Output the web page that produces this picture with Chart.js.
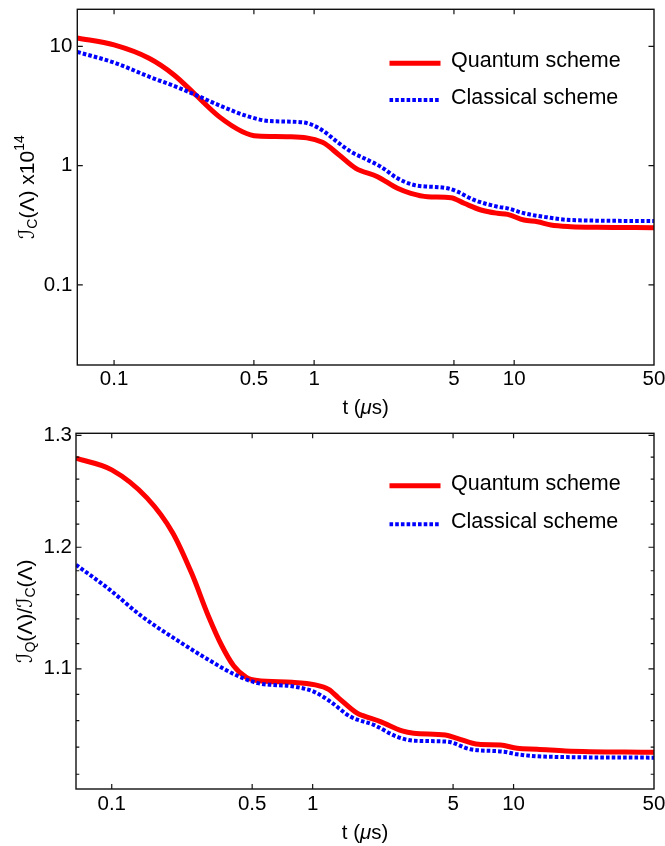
<!DOCTYPE html>
<html><head><meta charset="utf-8">
<script src="https://cdn.jsdelivr.net/npm/chart.js@4.4.1/dist/chart.umd.min.js"></script>
<style>
html,body{margin:0;padding:0;background:#fff;overflow:hidden;}
#w1{position:absolute;left:0;top:0;width:665px;height:420px;}
#w2{position:absolute;left:0;top:420px;width:665px;height:426px;}
</style></head><body>
<div id="w1"><canvas id="c1" width="665" height="420"></canvas></div>
<div id="w2"><canvas id="c2" width="665" height="426"></canvas></div>
<script>
// ---------- data ----------
const seriesLabels = ['Quantum scheme', 'Classical scheme'];

const xTickValues = [0.1, 0.5, 1, 5, 10, 50];
const xTickLabels = ['0.1', '0.5', '1', '5', '10', '50'];

// Top panel: I_C(Λ) x10^14 (log-log)
const tQuantumTop = [0.0655, 0.1, 0.1496, 0.1995, 0.256, 0.335, 0.4385, 0.521, 0.75, 1.10, 1.334, 1.616, 2.075, 2.61, 3.045, 3.69, 4.83, 5.62, 6.82, 8.26, 9.27, 11.2, 13.09, 15.26, 19.2, 26.1, 50];
const quantumTop = [11.8, 10.3, 7.96, 5.77, 3.92, 2.58, 1.93, 1.775, 1.75, 1.57, 1.23, 0.951, 0.809, 0.646, 0.587, 0.55, 0.539, 0.484, 0.425, 0.399, 0.391, 0.350, 0.339, 0.318, 0.308, 0.304, 0.302];
const tClassicalTop = [0.0655, 0.1023, 0.1496, 0.2036, 0.256, 0.348, 0.473, 0.596, 0.875, 1.059, 1.334, 1.526, 1.778, 2.155, 2.61, 3.16, 4.64, 5.21, 6.31, 8.26, 9.27, 11.2, 14.63, 19.2, 50];
const classicalTop = [9.0, 7.23, 5.58, 4.60, 3.92, 3.126, 2.576, 2.37, 2.31, 2.06, 1.54, 1.31, 1.154, 0.981, 0.784, 0.689, 0.646, 0.605, 0.516, 0.453, 0.439, 0.399, 0.369, 0.350, 0.3435];
const yTopTickValues = [0.1, 1, 10];
const yTopTickLabels = ['0.1', '1', '10'];

// Bottom panel: I_Q(Λ)/I_C(Λ)
const tQuantumBottom = [0.0664, 0.1, 0.1497, 0.2013, 0.2503, 0.3034, 0.351, 0.4043, 0.4677, 0.5287, 0.7897, 1.031, 1.201, 1.343, 1.664, 1.795, 2.174, 2.788, 3.184, 4.58, 5.24, 6.69, 8.61, 10.42, 13.11, 18.14, 50];
const quantumBottom = [1.279, 1.2684, 1.2432, 1.2124, 1.1776, 1.142, 1.1191, 1.1024, 1.0933, 1.0908, 1.0894, 1.0874, 1.0839, 1.0774, 1.0656, 1.0635, 1.0592, 1.0521, 1.0504, 1.0491, 1.0466, 1.0421, 1.0416, 1.0391, 1.0385, 1.0372, 1.0362];
const tClassicalBottom = [0.0664, 0.0965, 0.1414, 0.2132, 0.3034, 0.4121, 0.5334, 0.804, 1.0115, 1.225, 1.540, 2.013, 2.633, 3.184, 4.67, 6.10, 8.94, 10.42, 14.7, 50];
const classicalBottom = [1.185, 1.1648, 1.142, 1.1224, 1.1071, 1.0953, 1.0888, 1.0861, 1.0822, 1.0745, 1.063, 1.0567, 1.0478, 1.0448, 1.0441, 1.0384, 1.0366, 1.0347, 1.0329, 1.0322];
const yBottomTickValues = [1.1, 1.2, 1.3];
const yBottomTickLabels = ['1.1', '1.2', '1.3'];
const yBottomMinorValues = [1.02, 1.04, 1.06, 1.08, 1.12, 1.14, 1.16, 1.18, 1.22, 1.24, 1.26, 1.28];

// ---------- helpers ----------
const FONT = "'Liberation Sans', Arial, sans-serif";
const SCRIPT_FONT = "'DejaVu Serif', 'DejaVu Sans', serif";

function drawRich(ctx, segs, cx, cy, rotate) {
  ctx.save();
  ctx.translate(cx, cy);
  if (rotate) ctx.rotate(-Math.PI / 2);
  ctx.fillStyle = '#000';
  ctx.textBaseline = 'middle';
  ctx.textAlign = 'left';
  let total = 0;
  const fonts = segs.map(s => (s.italic ? 'italic ' : '') + s.size + 'px ' + (s.family || FONT));
  segs.forEach((s, i) => { ctx.font = fonts[i]; total += ctx.measureText(s.t).width; });
  let x = -total / 2;
  segs.forEach((s, i) => {
    ctx.font = fonts[i];
    ctx.fillText(s.t, x, s.dy || 0);
    x += ctx.measureText(s.t).width;
  });
  ctx.restore();
}

function makePlugin(cfg) {
  return {
    id: 'decor_' + cfg.id,
    afterDraw(chart) {
      const ctx = chart.ctx, a = chart.chartArea;
      const xs = chart.scales.x, ys = chart.scales.y;
      ctx.save();
      // frame
      ctx.strokeStyle = '#111';
      ctx.lineWidth = 1.4;
      ctx.strokeRect(a.left, a.top, a.right - a.left, a.bottom - a.top);
      // ticks (inward, all four sides)
      ctx.lineWidth = 1.2;
      ctx.beginPath();
      xTickValues.forEach(v => {
        const p = xs.getPixelForValue(v);
        if (p > a.left + 1 && p < a.right - 1) {
          ctx.moveTo(p, a.bottom); ctx.lineTo(p, a.bottom - 5);
          ctx.moveTo(p, a.top); ctx.lineTo(p, a.top + 5);
        }
      });
      cfg.yMajor.forEach(v => {
        const p = ys.getPixelForValue(v);
        ctx.moveTo(a.left, p); ctx.lineTo(a.left + 5.5, p);
        ctx.moveTo(a.right, p); ctx.lineTo(a.right - 5.5, p);
      });
      (cfg.yMinor || []).forEach(v => {
        const p = ys.getPixelForValue(v);
        ctx.moveTo(a.left, p); ctx.lineTo(a.left + 3.3, p);
        ctx.moveTo(a.right, p); ctx.lineTo(a.right - 3.3, p);
      });
      ctx.stroke();

      // legend
      const ds = chart.data.datasets;
      const rows = [cfg.legendY1, cfg.legendY2];
      ds.forEach((d, i) => {
        const y = a.top + rows[i];
        const x0 = a.right - 264.5, x1 = a.right - 213.5;
        ctx.save();
        ctx.strokeStyle = d.borderColor;
        ctx.lineWidth = d.borderWidth;
        ctx.setLineDash(d.borderDash || []);
        ctx.lineCap = 'butt';
        ctx.beginPath(); ctx.moveTo(x0, y); ctx.lineTo(x1, y); ctx.stroke();
        ctx.restore();
        ctx.fillStyle = '#000';
        ctx.font = '21.5px ' + FONT;
        ctx.textBaseline = 'middle';
        ctx.textAlign = 'left';
        ctx.fillText(d.label, a.right - 203, y - 2);
      });

      // axis titles
      const xc = (a.left + a.right) / 2;
      drawRich(ctx, [
        {t: 't (', size: 20.5},
        {t: 'μ', size: 20.5, italic: true},
        {t: 's)', size: 20.5}
      ], xc, cfg.xTitleY, false);
      drawRich(ctx, cfg.yTitle, cfg.yTitleX, (a.top + a.bottom) / 2, true);
      ctx.restore();
    }
  };
}

function zeroPad(s) { s.paddingTop = 0; s.paddingBottom = 0; s.paddingLeft = 0; s.paddingRight = 0; }

function buildChart(cfg) {
  const mk = (ts, vs) => ts.map((t, i) => ({x: t, y: vs[i]}));
  return new Chart(document.getElementById(cfg.id), {
    type: 'line',
    data: {
      datasets: [
        {label: seriesLabels[0], data: mk(cfg.qT, cfg.qV), borderColor: '#ff0000', backgroundColor: '#ff0000',
         borderWidth: 5, pointRadius: 0, fill: false, cubicInterpolationMode: 'monotone', order: 2},
        {label: seriesLabels[1], data: mk(cfg.cT, cfg.cV), borderColor: '#0000ff', backgroundColor: '#0000ff',
         borderWidth: 4, borderDash: [3.6, 2.1], pointRadius: 0, fill: false, cubicInterpolationMode: 'monotone', order: 1}
      ]
    },
    options: {
      responsive: false,
      animation: false,
      devicePixelRatio: 1,
      layout: {padding: {top: cfg.padTop, right: 11, left: 0, bottom: 0}},
      plugins: {legend: {display: false}, tooltip: {enabled: false}},
      scales: {
        x: {
          type: 'logarithmic', min: cfg.xMin, max: 50,
          afterBuildTicks: s => { s.ticks = xTickValues.map(v => ({value: v})); },
          afterFit: s => { s.height = cfg.xAxisH; zeroPad(s); },
          grid: {display: false, drawTicks: false},
          border: {display: false},
          ticks: {autoSkip: false, maxRotation: 0, minRotation: 0, padding: cfg.xPad, color: '#000',
                  font: {family: FONT, size: 20.5},
                  callback: (v, i) => xTickLabels[i]}
        },
        y: {
          type: 'logarithmic', min: cfg.yMin, max: cfg.yMax,
          afterBuildTicks: s => { s.ticks = cfg.yMajor.map(v => ({value: v})); },
          afterFit: s => { s.width = cfg.yAxisW; zeroPad(s); },
          grid: {display: false, drawTicks: false},
          border: {display: false},
          ticks: {autoSkip: false, padding: cfg.yPad, color: '#000',
                  font: {family: FONT, size: 20.5},
                  callback: (v, i) => cfg.yLabels[i]}
        }
      }
    },
    plugins: [makePlugin(cfg)]
  });
}

buildChart({
  id: 'c1', qT: tQuantumTop, qV: quantumTop, cT: tClassicalTop, cV: classicalTop,
  xMin: 0.0655, yMin: 0.0213, yMax: 20.5,
  yMajor: yTopTickValues, yLabels: yTopTickLabels,
  padTop: 9.3, xAxisH: 55, yAxisW: 77.3, xPad: 2, yPad: 5,
  legendY1: 54, legendY2: 90.7, xTitleY: 408, yTitleX: 28,
  yTitle: [
    {t: 'ℐ', size: 22, family: SCRIPT_FONT, italic: true},
    {t: 'C', size: 14, dy: 5},
    {t: '(Λ) x10', size: 21},
    {t: '14', size: 14, dy: -8}
  ]
});

buildChart({
  id: 'c2', qT: tQuantumBottom, qV: quantumBottom, cT: tClassicalBottom, cV: classicalBottom,
  xMin: 0.0664, yMin: 1.0093, yMax: 1.302,
  yMajor: yBottomTickValues, yLabels: yBottomTickLabels, yMinor: yBottomMinorValues,
  padTop: 13.3, xAxisH: 57, yAxisW: 76, xPad: 3, yPad: 4,
  legendY1: 52.4, legendY2: 91, xTitleY: 413, yTitleX: 26,
  yTitle: [
    {t: 'ℐ', size: 22, family: SCRIPT_FONT, italic: true},
    {t: 'Q', size: 14, dy: 5},
    {t: '(Λ)/', size: 21},
    {t: 'ℐ', size: 22, family: SCRIPT_FONT, italic: true},
    {t: 'C', size: 14, dy: 5},
    {t: '(Λ)', size: 21}
  ]
});
</script>
</body></html>
